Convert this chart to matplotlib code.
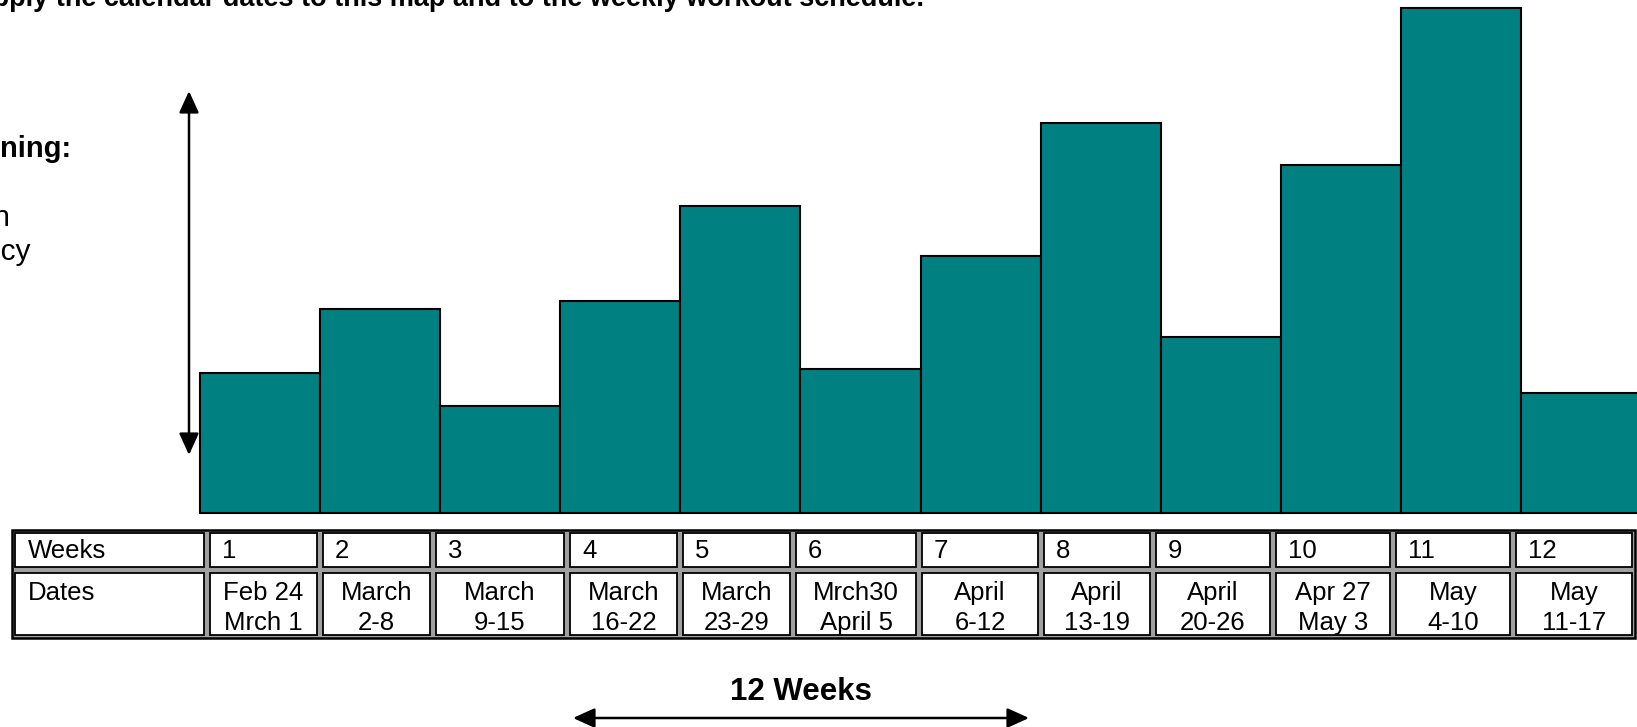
import matplotlib.pyplot as plt
from matplotlib.patches import Rectangle, FancyArrowPatch

# Dane wykresu
weeks = [1, 2, 3, 4, 5, 6, 7, 8, 9, 10, 11, 12]
intensity = [27.7, 40.3, 21.0, 41.9, 60.7, 28.5, 50.7, 77.1, 34.7, 68.8, 100, 23.7]
week_labels = ['1', '2', '3', '4', '5', '6', '7', '8', '9', '10', '11', '12']
dates_line1 = ['Feb 24', 'March', 'March', 'March', 'March', 'Mrch30',
               'April', 'April', 'April', 'Apr 27', 'May', 'May']
dates_line2 = ['Mrch 1', '2-8', '9-15', '16-22', '23-29', 'April 5',
               '6-12', '13-19', '20-26', 'May 3', '4-10', '11-17']

W, H = 1637, 727
TEAL = '#008080'
FONT = 'Liberation Sans'

plt.rcParams['font.family'] = [FONT, 'DejaVu Sans']


def draw_table(ax):
    # granice kolumn i wierszy tabeli (piksele)
    cols = [12, 207, 320, 433, 567, 680, 793, 919, 1041, 1153, 1273, 1393, 1513, 1635]
    top, mid, bottom = 530, 570, 638

    ax.add_patch(Rectangle((cols[0], top), cols[-1] - cols[0], bottom - top,
                           facecolor='#a0a0a0', edgecolor='black', lw=1.8, zorder=2))
    for i in range(len(cols) - 1):
        for (y0, y1) in [(top, mid), (mid, bottom)]:
            ax.add_patch(Rectangle((cols[i] + 3, y0 + 3), cols[i + 1] - cols[i] - 6,
                                   y1 - y0 - 6, facecolor='white', edgecolor='black',
                                   lw=1.3, zorder=3))

    fs = 18.5
    ax.text(28, 558, 'Weeks', fontsize=fs, ha='left', va='baseline', zorder=4)
    ax.text(28, 600, 'Dates', fontsize=fs, ha='left', va='baseline', zorder=4)
    for i, lab in enumerate(week_labels):
        left, right = cols[i + 1], cols[i + 2]
        cx = (left + right) / 2
        ax.text(left + 15, 558, lab, fontsize=fs, ha='left', va='baseline', zorder=4)
        ax.text(cx, 600, dates_line1[i], fontsize=fs, ha='center', va='baseline', zorder=4)
        ax.text(cx, 630, dates_line2[i], fontsize=fs, ha='center', va='baseline', zorder=4)


def main():
    fig = plt.figure(figsize=(W / 100, H / 100), dpi=100)

    # Warstwa z tekstem, strzalkami i tabela (wspolrzedne w pikselach)
    ov = fig.add_axes([0, 0, 1, 1])
    ov.set_xlim(0, W)
    ov.set_ylim(H, 0)
    ov.axis('off')

    # Wykres slupkowy
    base_y = 512.5
    ax = fig.add_axes([200 / W, (H - base_y) / H, 1441 / W, 505 / H])
    ax.bar(weeks, intensity, width=1.0, color=TEAL, edgecolor='black',
           linewidth=1.5, clip_on=False)
    ax.set_xlim(0.5, 12.5)
    ax.set_ylim(0, 100)
    ax.axis('off')

    # Teksty obciete przez krawedz slajdu
    ov.text(924, 6, 'Apply the calendar dates to this map and to the weekly workout schedule.',
            fontsize=19.5, fontweight='bold', ha='right', va='baseline')
    ov.text(72, 157, 'Training:', fontsize=21, fontweight='bold', ha='right', va='baseline')
    ov.text(10, 226, 'Periodization', fontsize=21.5, ha='right', va='baseline')
    ov.text(31, 260, 'Frequency', fontsize=21.5, ha='right', va='baseline')

    # Strzalka pionowa
    ov.add_patch(FancyArrowPatch((189, 455), (189, 91),
                                 arrowstyle='<|-|>,head_length=1.1,head_width=0.5',
                                 mutation_scale=12, lw=1.8, color='black',
                                 shrinkA=0, shrinkB=0))

    draw_table(ov)

    # 12 tygodni
    ov.text(801, 700, '12 Weeks', fontsize=22.5, fontweight='bold', ha='center', va='baseline')
    ov.add_patch(FancyArrowPatch((573, 718), (1029, 718),
                                 arrowstyle='<|-|>,head_length=1.1,head_width=0.5',
                                 mutation_scale=12, lw=1.8, color='black',
                                 shrinkA=0, shrinkB=0))

    fig.savefig('out.png', dpi=100, facecolor='white')
    plt.close(fig)


if __name__ == "__main__":
    main()
